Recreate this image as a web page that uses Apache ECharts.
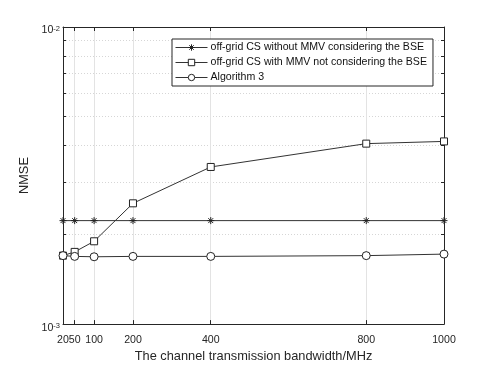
<!DOCTYPE html>
<html><head><meta charset="utf-8">
<script src="https://cdn.jsdelivr.net/npm/echarts@6/dist/echarts.min.js"></script>
<style>html,body{margin:0;padding:0;background:#fff}#c{width:491px;height:368px}</style>
</head><body><div id="c"></div>
<script>
const bandwidth = [20, 50, 100, 200, 400, 800, 1000];
const seriesNames = ['off-grid CS without MMV considering the BSE', 'off-grid CS with MMV not considering the BSE', 'Algorithm 3'];
const noMMV = [2.23e-3, 2.23e-3, 2.23e-3, 2.23e-3, 2.23e-3, 2.23e-3, 2.23e-3];
const withMMV = [1.70e-3, 1.75e-3, 1.90e-3, 2.55e-3, 3.38e-3, 4.05e-3, 4.12e-3];
const alg3 = [1.70e-3, 1.69e-3, 1.685e-3, 1.69e-3, 1.69e-3, 1.70e-3, 1.72e-3];
const xTicks = [20, 50, 100, 200, 400, 800, 1000];
const yTicks = [0.001, 0.002, 0.003, 0.004, 0.005, 0.006, 0.007, 0.008, 0.009, 0.01];
const yLabels = [0.001, 0.01];

const FONT = 'Liberation Sans, Arial, Helvetica, sans-serif';
const AX = '#262626';
const star = 'path://M0,-1L0,1M-1,0L1,0M-0.7,-0.7L0.7,0.7M-0.7,0.7L0.7,-0.7';
const chart = echarts.init(document.getElementById('c'), null, {renderer: 'canvas'});
const pair = arr => bandwidth.map((x, i) => [x, arr[i]]);
const lineStyle = {color: '#333', width: 1};
function mk(name, data, symbol, size) {
  return {
    name, type: 'line', data: pair(data), symbol, symbolSize: size,
    showAllSymbol: true, animation: false,
    lineStyle, itemStyle: {color: '#fff', borderColor: '#222', borderWidth: 1},
    emphasis: {disabled: true}
  };
}
const baseX = {
  type: 'value', min: 20, max: 1000,
  axisLine: {show: true, lineStyle: {color: AX, width: 1}},
  axisTick: {show: true, inside: true, length: 4, customValues: xTicks, lineStyle: {color: AX}},
  splitLine: {show: false}
};
const baseY = {
  type: 'log', logBase: 10, min: 0.001, max: 0.01,
  axisLine: {show: true, lineStyle: {color: AX, width: 1}},
  axisTick: {show: true, inside: true, length: 3, customValues: yTicks, lineStyle: {color: AX}},
  splitLine: {show: false}
};
chart.setOption({
  backgroundColor: '#fff',
  animation: false,
  grid: {left: 63, right: 47, top: 27, bottom: 41, containLabel: false},
  legend: {
    left: 172, top: 39, orient: 'vertical',
    backgroundColor: '#fff', borderColor: AX, borderWidth: 1,
    padding: [3, 6, 3, 3], itemGap: 4, itemWidth: 32, itemHeight: 8,
    textStyle: {fontFamily: FONT, fontSize: 10.6, color: '#111', padding: [0, 0, 0, -2]},
    itemStyle: {color: '#fff', borderColor: '#222', borderWidth: 1},
    lineStyle: {color: '#333', width: 1},
    data: seriesNames
  },
  xAxis: [
    Object.assign({}, baseX, {
      position: 'bottom',
      name: 'The channel transmission bandwidth/MHz', nameLocation: 'middle', nameGap: 22,
      nameTextStyle: {fontFamily: FONT, fontSize: 12.8, color: '#262626'},
      axisLabel: {show: true, customValues: xTicks, showMinLabel: true, showMaxLabel: true, hideOverlap: false,
        margin: 10, fontFamily: FONT, fontSize: 10.6, color: '#262626', formatter: v => String(v)},
      splitLine: {show: true, lineStyle: {color: '#e3e3e3', width: 1}}
    }),
    Object.assign({}, baseX, {position: 'top', axisLabel: {show: false}})
  ],
  yAxis: [
    Object.assign({}, baseY, {
      position: 'left',
      name: 'NMSE', nameLocation: 'middle', nameGap: 28,
      nameTextStyle: {fontFamily: FONT, fontSize: 12.8, color: '#262626'},
      axisLabel: {
        show: true, customValues: yLabels, margin: 3, padding: [7, 0, 0, 0],
        formatter: v => '{b|10}{s|' + Math.round(Math.log10(v)) + '}',
        rich: {
          b: {fontFamily: FONT, fontSize: 10.6, lineHeight: 11, color: '#262626', verticalAlign: 'bottom', padding: [6, 0, 0, 0]},
          s: {fontFamily: FONT, fontSize: 7.5, lineHeight: 8, color: '#262626', verticalAlign: 'top'}
        }
      },
      splitLine: {show: true, lineStyle: {color: '#d6d6d6', width: 1, type: [1, 2]}}
    }),
    Object.assign({}, baseY, {position: 'right', axisLabel: {show: false}})
  ],
  series: [
    mk(seriesNames[0], noMMV, star, 7),
    mk(seriesNames[1], withMMV, 'rect', 7),
    mk(seriesNames[2], alg3, 'circle', 8)
  ]
});
</script></body></html>
